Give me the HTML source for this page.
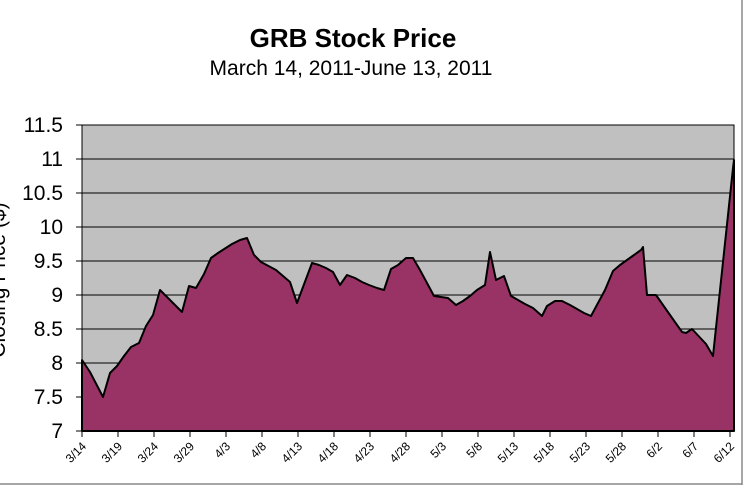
<!DOCTYPE html>
<html><head><style>body{margin:0;background:#fff}svg{display:block}</style></head><body>
<svg width="750" height="500" xmlns="http://www.w3.org/2000/svg" font-family="Liberation Sans, Arial, sans-serif">
<rect x="0" y="0" width="750" height="500" fill="#fff"/>
<line x1="742" y1="0" x2="742" y2="485" stroke="#888" stroke-width="1.5"/>
<line x1="0" y1="484" x2="742" y2="484" stroke="#888" stroke-width="1.5"/>
<text x="353" y="47" text-anchor="middle" font-size="26" font-weight="bold">GRB Stock Price</text>
<text x="351" y="75" text-anchor="middle" font-size="21">March 14, 2011-June 13, 2011</text>
<rect x="82" y="125" width="652" height="306" fill="#c0c0c0"/>
<g stroke="#000" stroke-width="1">
<line x1="82" y1="159" x2="734" y2="159"/><line x1="82" y1="193" x2="734" y2="193"/><line x1="82" y1="227" x2="734" y2="227"/><line x1="82" y1="261" x2="734" y2="261"/><line x1="82" y1="295" x2="734" y2="295"/><line x1="82" y1="329" x2="734" y2="329"/><line x1="82" y1="363" x2="734" y2="363"/><line x1="82" y1="397" x2="734" y2="397"/>
</g>
<polygon fill="#993366" stroke="#000" stroke-width="2" stroke-linejoin="round" points="82,431 82,360 90,372 103,397 110,373 117,366 124,356 131,347 139,343 146,326 153,315 160,290 168,298 182,312 189,286 196,288 204,274 211,258 218,253 232,244 240,240 247,238 254,255 261,262 276,270 283,276 290,282 297,303 312,263 319,265 326,268 333,272 340,285 347,275 355,278 362,282 369,285 377,288 384,290 391,269 398,265 406,258 413,258 420,270 434,296 441,297 448,298 456,305 463,301 470,296 477,290 485,285 490,252 496,280 504,276 511,296 518,300 525,304 533,308 542,316 547,306 555,301 562,301 570,305 577,309 584,313 591,316 598,303 605,290 613,271 620,265 627,260 634,255 641,250 643,247 647,295 656,295 670,315 682,332 686,333 692,329 706,344 713,356 733,168 734,160 734,431"/>
<rect x="82" y="125" width="652" height="306" fill="none" stroke="#000" stroke-width="1"/>
<line x1="82" y1="431" x2="734" y2="431" stroke="#000" stroke-width="2"/>
<g font-size="21" text-anchor="end">
<text x="63" y="132">11.5</text><text x="63" y="166">11</text><text x="63" y="200">10.5</text><text x="63" y="234">10</text><text x="63" y="268">9.5</text><text x="63" y="302">9</text><text x="63" y="336">8.5</text><text x="63" y="370">8</text><text x="63" y="404">7.5</text><text x="63" y="438">7</text>
</g>
<g stroke="#000"><line x1="76" y1="125" x2="82" y2="125"/><line x1="76" y1="159" x2="82" y2="159"/><line x1="76" y1="193" x2="82" y2="193"/><line x1="76" y1="227" x2="82" y2="227"/><line x1="76" y1="261" x2="82" y2="261"/><line x1="76" y1="295" x2="82" y2="295"/><line x1="76" y1="329" x2="82" y2="329"/><line x1="76" y1="363" x2="82" y2="363"/><line x1="76" y1="397" x2="82" y2="397"/><line x1="76" y1="431" x2="82" y2="431"/></g>
<text transform="translate(5,280) rotate(-90)" font-size="21" text-anchor="middle">Closing Price ($)</text>
<g font-size="12" text-anchor="end" id="xl"></g>
<script>
var labels=["3/14","3/19","3/24","3/29","4/3","4/8","4/13","4/18","4/23","4/28","5/3","5/8","5/13","5/18","5/23","5/28","6/2","6/7","6/12"];
var g=document.getElementById("xl"),ns="http://www.w3.org/2000/svg";
labels.forEach(function(l,i){var x=82+i*36;
var ln=document.createElementNS(ns,"line");ln.setAttribute("x1",x);ln.setAttribute("x2",x);ln.setAttribute("y1",431);ln.setAttribute("y2",437);ln.setAttribute("stroke","#000");g.appendChild(ln);
var t=document.createElementNS(ns,"text");t.setAttribute("transform","translate("+(x+5)+",447) rotate(-45)");t.textContent=l;g.appendChild(t);});
</script>
</svg>
</body></html>
